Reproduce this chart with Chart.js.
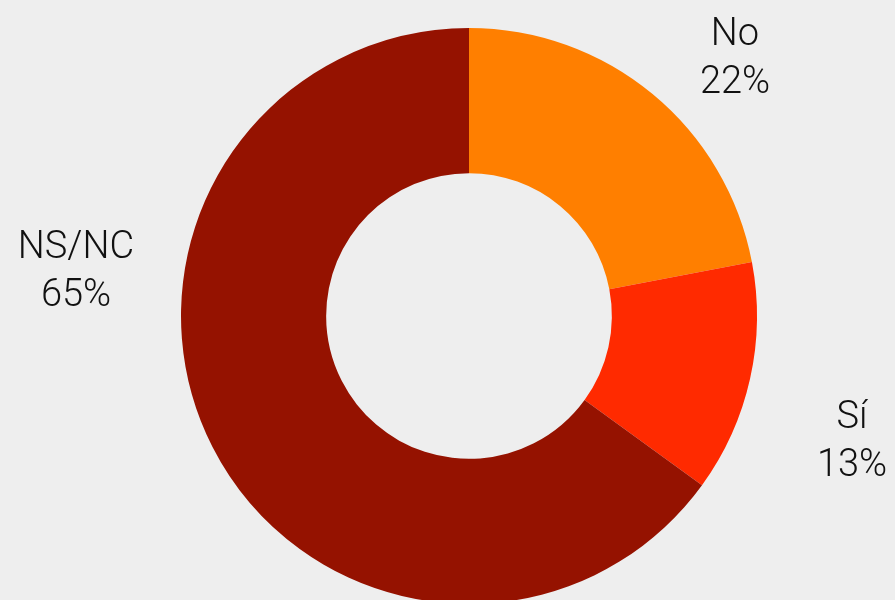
<!DOCTYPE html>
<html>
<head>
<meta charset="utf-8">
<script src="https://cdn.jsdelivr.net/npm/chart.js@4"></script>
<style>
html,body{margin:0;padding:0;width:895px;height:600px;overflow:hidden;background:#eeeeee;}
#wrap{position:absolute;left:0;top:0;width:895px;height:632px;}
</style>
</head>
<body>
<div id="wrap"><canvas id="c" width="895" height="632"></canvas></div>
<script>
const categories = ["No", "Sí", "NS/NC"];
const values = [22, 13, 65];
const valueLabels = ["22%", "13%", "65%"];
const colors = ["#FF7F00", "#FF2A00", "#951200"];

// label offsets relative to chart centre (style only)
const labelOffsets = [[266, -261], [383, 122], [-393, -48]];

const labelPlugin = {
  id: 'sliceLabels',
  afterDraw(chart) {
    const ctx = chart.ctx;
    const meta = chart.getDatasetMeta(0);
    ctx.save();
    ctx.fillStyle = '#111111';
    ctx.font = '300 38px "Roboto", "Liberation Sans", sans-serif';
    ctx.textAlign = 'center';
    ctx.textBaseline = 'alphabetic';
    meta.data.forEach((arc, i) => {
      const cx = arc.x + labelOffsets[i][0];
      const cy = arc.y + labelOffsets[i][1];
      ctx.fillText(chart.data.labels[i], cx, cy - 10);
      ctx.fillText(valueLabels[i], cx, cy + 38);
    });
    ctx.restore();
  }
};

new Chart(document.getElementById('c'), {
  type: 'doughnut',
  data: {
    labels: categories,
    datasets: [{
      data: values,
      backgroundColor: colors,
      borderWidth: 0
    }]
  },
  options: {
    responsive: false,
    animation: false,
    cutout: '49.6%',
    layout: { padding: { left: 181, right: 138, top: 28, bottom: 28 } },
    plugins: { legend: { display: false }, tooltip: { enabled: false } }
  },
  plugins: [labelPlugin]
});
</script>
</body>
</html>
